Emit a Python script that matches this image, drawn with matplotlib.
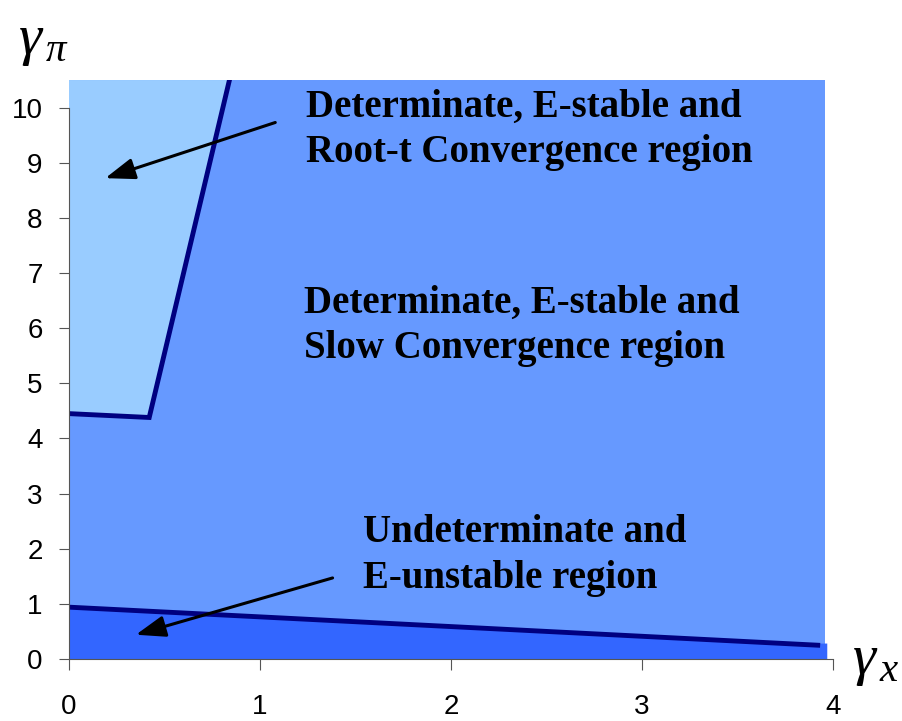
import matplotlib
matplotlib.use("Agg")
import matplotlib.pyplot as plt

# region boundaries (gamma_x, gamma_pi)
root_t_x = [0.0, 0.42, 0.84, 0.0]
root_t_y = [4.45, 4.38, 10.5, 10.5]
slow_x = [0.0, 3.96, 3.96, 0.0]
slow_y = [0.0, 0.0, 10.5, 10.5]
unstable_x = [0.0, 0.0, 3.92, 3.97, 3.97]
unstable_y = [0.0, 0.95, 0.28, 0.28, 0.0]

upper_line_x = [0.0, 0.42, 0.84]
upper_line_y = [4.45, 4.38, 10.5]
lower_line_x = [0.0, 3.92]
lower_line_y = [0.94, 0.25]

x_ticks = [0, 1, 2, 3, 4]
y_ticks = [0, 1, 2, 3, 4, 5, 6, 7, 8, 9, 10]

labels = [
    ("Determinate, E-stable and\nRoot-t Convergence region", 1.24, 9.6),
    ("Determinate, E-stable and\nSlow Convergence region", 1.23, 6.04),
    ("Undeterminate and\nE-unstable region", 1.54, 1.88),
]
arrows = [((1.08, 9.73), (0.19, 8.72)), ((1.38, 1.47), (0.35, 0.44))]

plt.rcParams["mathtext.fontset"] = "custom"
plt.rcParams["mathtext.it"] = "Liberation Serif:italic"
plt.rcParams["mathtext.rm"] = "Liberation Serif"

fig = plt.figure(figsize=(9.02, 7.21), dpi=100)
ax = fig.add_axes([0.0765, 0.086, 0.847, 0.803])

ax.fill(slow_x, slow_y, color="#6699FF", lw=0)
ax.fill(root_t_x, root_t_y, color="#99CCFF", lw=0)
ax.fill(unstable_x, unstable_y, color="#3366FF", lw=0)
ax.plot(upper_line_x, upper_line_y, color="#000080", lw=3.5, solid_joinstyle="miter")
ax.plot(lower_line_x, lower_line_y, color="#000080", lw=3.5)

for txt, x, y in labels:
    ax.text(x, y, txt, family="Liberation Serif", weight="bold", fontsize=28,
            ha="left", va="center", linespacing=1.3)

for (x0, y0), (x1, y1) in arrows:
    ax.annotate("", xy=(x1, y1), xytext=(x0, y0),
                arrowprops=dict(arrowstyle="-|>,head_length=1.8,head_width=0.65",
                                color="black", lw=2.2, shrinkA=0, shrinkB=0))

ax.set_xlim(0, 4)
ax.set_ylim(0, 10.5)
ax.set_xticks(x_ticks)
ax.set_yticks(y_ticks)
ax.tick_params(axis="both", direction="out", color="#555555", labelsize=20)
ax.tick_params(axis="x", length=8, pad=17)
ax.tick_params(axis="y", length=7, pad=12)
for lab in ax.get_xticklabels() + ax.get_yticklabels():
    lab.set_family("Liberation Sans")
ax.spines["top"].set_visible(False)
ax.spines["right"].set_visible(False)
ax.spines["left"].set_bounds(0, 10)
ax.spines["bottom"].set_bounds(0, 4)
ax.spines["left"].set_color("#555555")
ax.spines["bottom"].set_color("#555555")

fig.text(0.02, 0.945, r"$\gamma_{\,\pi}$", fontsize=42, ha="left", va="center")
fig.text(0.945, 0.085, r"$\gamma_{\,x}$", fontsize=42, ha="left", va="center")

fig.savefig("out.png", dpi=100)
